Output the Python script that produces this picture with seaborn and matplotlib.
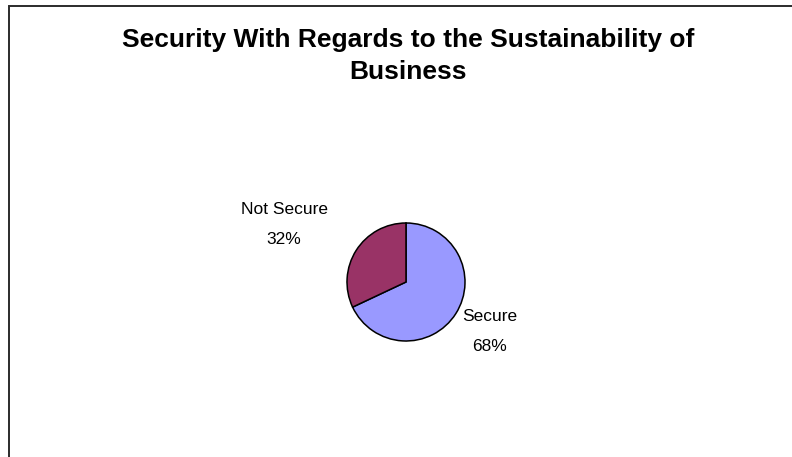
import matplotlib
matplotlib.use("Agg")
import matplotlib.pyplot as plt
from matplotlib.patches import Rectangle
import numpy as np
import seaborn as sns

# Survey result: perceived security regarding business sustainability
categories = ["Secure", "Not Secure"]
shares = [68, 32]
colors = ["#9999FF", "#993366"]
title_lines = ["Security With Regards to the Sustainability of", "Business"]

sns.set_theme(style="white")
plt.rcParams["font.family"] = ["Liberation Sans", "DejaVu Sans"]

W, H, DPI = 792, 457, 100
fig = plt.figure(figsize=(W / DPI, H / DPI), dpi=DPI)
fig.patch.set_facecolor("white")

# outer chart frame (right and bottom edges run off the canvas)
fig.add_artist(Rectangle((8.5 / W, -0.1), 1.2, 1.1 - 6.5 / H,
                         transform=fig.transFigure, fill=False,
                         edgecolor="#2b2b2b", linewidth=1.4))

# title, two centred lines
fig.text(408 / W, 1 - 47 / H, title_lines[0], ha="center", va="baseline",
         fontsize=19, fontweight="bold", color="black")
fig.text(408 / W, 1 - 79 / H, title_lines[1], ha="center", va="baseline",
         fontsize=19, fontweight="bold", color="black")

# pie axes: centre (406, 282) px, radius 59 px
cx, cy, r = 406, 282, 59
ax = fig.add_axes([(cx - r) / W, 1 - (cy + r) / H, 2 * r / W, 2 * r / H])
wedges, _ = ax.pie(shares, colors=colors, startangle=90, counterclock=False,
                   wedgeprops=dict(edgecolor="black", linewidth=1.1))
ax.set_xlim(-1, 1)
ax.set_ylim(-1, 1)
ax.set_aspect("equal")
ax.axis("off")

# category labels with percentages, offset from each wedge's mid-angle
label_offsets = {"Secure": (34, -18), "Not Secure": (-72, 26)}
for w, name, val in zip(wedges, categories, shares):
    mid = np.deg2rad((w.theta1 + w.theta2) / 2)
    x, y = np.cos(mid), np.sin(mid)
    ax.annotate(f"{name}\n{val}%", xy=(x, y), xycoords="data",
                xytext=label_offsets[name], textcoords="offset pixels",
                ha="center", va="center", fontsize=12.5, color="black",
                linespacing=2.2, annotation_clip=False)

fig.savefig("out.png", dpi=DPI, facecolor="white")
